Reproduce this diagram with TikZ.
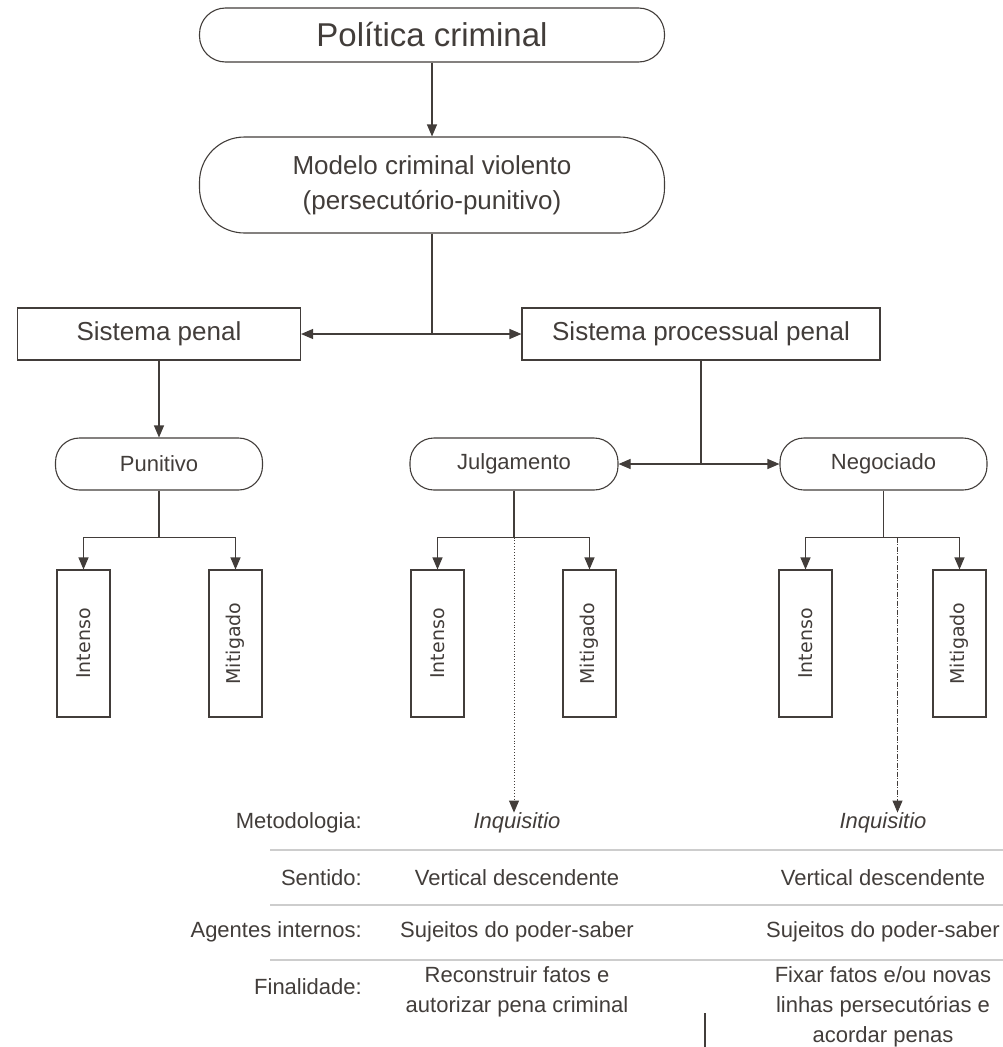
\documentclass[tikz,border=0pt]{standalone}
\usepackage{fontspec}
\setmainfont{Liberation Sans}
\newfontfamily\boxfont{DejaVu Sans}
\usetikzlibrary{arrows.meta, positioning}
\definecolor{inkgray}{RGB}{66,61,58}
\definecolor{rulegray}{RGB}{205,205,205}

\begin{document}
\begin{tikzpicture}[
    x=1pt, y=-1pt,
    every node/.style={text=inkgray},
    pill/.style={rectangle, draw=inkgray, line width=1.1pt, rounded corners=24pt, minimum width=207pt, minimum height=52pt, align=center, inner sep=0pt, font=\fontsize{22}{26}\selectfont},
    sysbox/.style={rectangle, draw=inkgray, line width=1.1pt, minimum height=52pt, align=center, inner sep=0pt, font=\fontsize{26}{30}\selectfont},
    vbox/.style={rectangle, draw=inkgray, line width=1.1pt, minimum width=53pt, minimum height=147pt, inner sep=0pt, font=\boxfont\fontsize{19}{22}\selectfont},
    tlabel/.style={anchor=east, inner sep=0pt, font=\fontsize{22}{30}\selectfont},
    tcell/.style={align=center, inner sep=0pt, font=\fontsize{22}{30}\selectfont},
    arrow/.style={-{Triangle[length=12pt, width=10pt]}, line width=1.1pt, draw=inkgray},
    dblarrow/.style={{Triangle[length=12pt, width=10pt]}-{Triangle[length=12pt, width=10pt]}, line width=1.1pt, draw=inkgray},
    link/.style={line width=1.1pt, draw=inkgray},
    dashdot/.style={dash pattern=on 5pt off 1.5pt on 1pt off 1.5pt},
]
\useasboundingbox (0,0) rectangle (1003,1047);

% Nodes
\node[pill, minimum width=465pt, minimum height=54pt, rounded corners=26pt, font=\fontsize{33}{38}\selectfont] (pol) at (432,35) {Política criminal};
\node[pill, minimum width=465pt, minimum height=96pt, rounded corners=45pt, font=\fontsize{26}{35}\selectfont] (mod) at (432,185) {Modelo criminal violento\\(persecutório-punitivo)};
\node[sysbox, minimum width=283pt] (pen) at (159,334) {Sistema penal};
\node[sysbox, minimum width=358pt] (proc) at (701,334) {Sistema processual penal};

\node[pill] (pun) at (159,464) {Punitivo};
\node[pill, minimum width=208pt] (jul) at (514,464) {Julgamento};
\node[pill] (neg) at (883.5,464) {Negociado};

% Vertical boxes
\node[vbox] (punI) at (83.5,643.5) {\rotatebox{90}{Intenso}};
\node[vbox] (punM) at (235.5,643.5) {\rotatebox{90}{Mitigado}};
\node[vbox] (julI) at (437.5,643.5) {\rotatebox{90}{Intenso}};
\node[vbox] (julM) at (589.5,643.5) {\rotatebox{90}{Mitigado}};
\node[vbox] (negI) at (805.5,643.5) {\rotatebox{90}{Intenso}};
\node[vbox] (negM) at (959.5,643.5) {\rotatebox{90}{Mitigado}};

% Table
\node[tlabel] (lmet) at (362,823) {Metodologia:};
\node[tlabel] (lsen) at (362,878) {Sentido:};
\node[tlabel] (lage) at (362,932) {Agentes internos:};
\node[tlabel] (lfin) at (362,987) {Finalidade:};

\node[tcell, font=\itshape\fontsize{22}{30}\selectfont] (met1) at (517,823) {Inquisitio};
\node[tcell] (sen1) at (517,878) {Vertical descendente};
\node[tcell] (age1) at (517,932) {Sujeitos do poder-saber};
\node[tcell, anchor=north] (fin1) at (517,966) {Reconstruir fatos e\\autorizar pena criminal};

\node[tcell, font=\itshape\fontsize{22}{30}\selectfont] (met2) at (883,823) {Inquisitio};
\node[tcell] (sen2) at (883,878) {Vertical descendente};
\node[tcell] (age2) at (883,932) {Sujeitos do poder-saber};
\node[tcell, anchor=north] (fin2) at (883,966) {Fixar fatos e/ou novas\\linhas persecutórias e\\acordar penas};

\draw[rulegray, line width=1.6pt] (270,850) -- (1003,850);
\draw[rulegray, line width=1.6pt] (270,905) -- (1003,905);
\draw[rulegray, line width=1.6pt] (270,960) -- (1003,960);
\draw[link] (705,1013) -- (705,1047);

% Arrows
\draw[arrow] (pol) -- (mod);
\draw[link] (mod) -- (mod.south |- pen.east);
\draw[dblarrow] (pen) -- (proc);
\draw[arrow] (pen) -- (pun);
\draw[link] (proc) -- (proc.south |- jul.east);
\draw[dblarrow] (jul) -- (neg);

% Branches
\draw[link] (pun.south) -- ++(0,47) coordinate (bpun);
\draw[arrow] (bpun) -| (punI);
\draw[arrow] (bpun) -| (punM);
\draw[link] (jul.south) -- ++(0,47) coordinate (bjul);
\draw[arrow] (bjul) -| (julI);
\draw[arrow] (bjul) -| (julM);
\draw[link] (neg.south) -- ++(0,47) coordinate (bneg);
\draw[arrow] (bneg) -| (negI);
\draw[arrow] (bneg) -| (negM);

% To the table
\draw[arrow, line width=0.9pt, dotted] (bjul) -- (bjul |- met1.north);
\draw[arrow, line width=0.9pt, dashdot] ([xshift=14pt]bneg) -- ([xshift=14pt]bneg |- met2.north);

\end{tikzpicture}
\end{document}
